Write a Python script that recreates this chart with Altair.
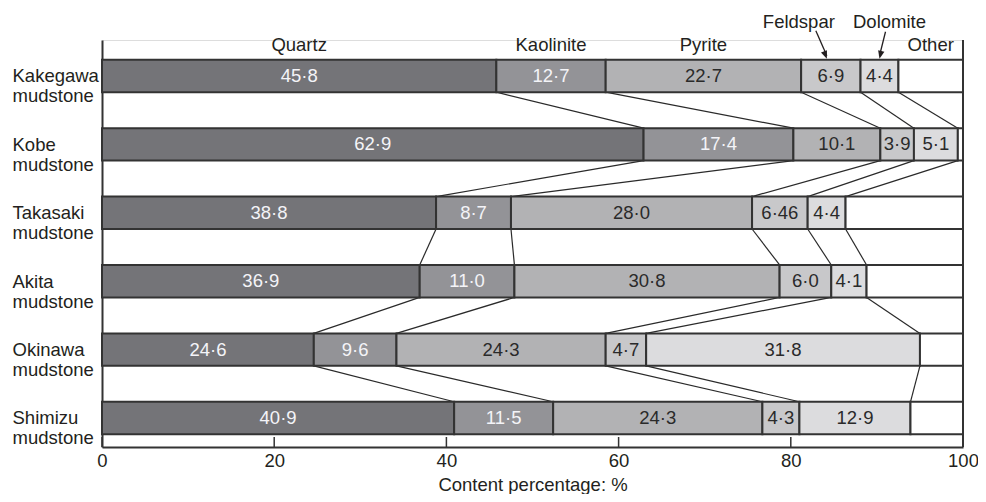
import altair as alt
import pandas as pd

samples = ["Kakegawa mudstone", "Kobe mudstone", "Takasaki mudstone",
           "Akita mudstone", "Okinawa mudstone", "Shimizu mudstone"]
minerals = ["Quartz", "Kaolinite", "Pyrite", "Feldspar", "Dolomite", "Other"]
quartz = [45.8, 62.9, 38.8, 36.9, 24.6, 40.9]
kaolinite = [12.7, 17.4, 8.7, 11.0, 9.6, 11.5]
pyrite = [22.7, 10.1, 28.0, 30.8, 24.3, 24.3]
feldspar = [6.9, 3.9, 6.46, 6.0, 4.7, 4.3]
dolomite = [4.4, 5.1, 4.4, 4.1, 31.8, 12.9]
tick_values = [0, 20, 40, 60, 80, 100]

fill_colors = ["#747478", "#939397", "#b2b2b4", "#c8c8ca", "#dcdcde", "#ffffff"]
text_colors = ["#f4f4f8", "#f4f4f8", "#2a2a2a", "#2a2a2a", "#2a2a2a", "#2a2a2a"]

HALF = 0.237  # half bar height in row units
FONT = "Liberation Sans"
INK = "#231f20"
W, H = 861, 407
FS = 18.5


def fmt(v):
    s = f"{v:.2f}".rstrip("0")
    if s.endswith("."):
        s += "0"
    return s.replace(".", "\u00b7")


series = [quartz, kaolinite, pyrite, feldspar, dolomite]
seg_rows = []
cums = []
for i, s in enumerate(samples):
    start = 0.0
    cum = []
    for k in range(5):
        v = series[k][i]
        end = start + v
        seg_rows.append(dict(sample=s, row=i, mineral=minerals[k], start=start, end=end,
                             label=fmt(v), tcolor=text_colors[k]))
        start = end
        cum.append(end)
    seg_rows.append(dict(sample=s, row=i, mineral="Other", start=start, end=100.0,
                         label="", tcolor=text_colors[5]))
    cums.append(cum)
seg = pd.DataFrame(seg_rows)

conn_rows = []
for i in range(len(samples) - 1):
    for k in range(5):
        conn_rows.append(dict(xa=cums[i][k], xb=cums[i + 1][k], ra=i, rb=i + 1))
conn = pd.DataFrame(conn_rows)

yscale = alt.Scale(domain=[-0.526, 5.424], reverse=True, nice=False, zero=False)
xscale = alt.Scale(domain=[0, 100], nice=False, zero=False)

names_js = "[" + ",".join("'" + n + "'" for n in samples) + "]"

xaxis = alt.Axis(values=tick_values, ticks=False, grid=False, domain=True,
                 domainColor="#333333", domainWidth=2,
                 labelFont=FONT, labelFontSize=FS, labelColor=INK,
                 labelPadding=4, labelFlush=False,
                 title="Content percentage: %", titleFont=FONT,
                 titleFontSize=FS, titleFontWeight="normal", titleColor=INK,
                 titleY=37, titleBaseline="middle")
yaxis = alt.Axis(values=list(range(len(samples))), ticks=False, tickSize=0,
                 grid=False, domain=True, domainColor="#333333", domainWidth=2,
                 labelExpr=f"split({names_js}[datum.value], ' ')",
                 labelAlign="left", labelBaseline="middle", labelPadding=90,
                 labelFont=FONT, labelFontSize=FS, labelLineHeight=20,
                 labelColor=INK, labelFlush=False, labelOverlap=False,
                 labelBound=False, title=None)


def X(field):
    return alt.X(field, scale=xscale, axis=xaxis)


def Y(field):
    return alt.Y(field, scale=yscale, axis=yaxis)


base = alt.Chart(seg).transform_calculate(
    top=f"datum.row - {HALF}", bot=f"datum.row + {HALF}",
    mid="(datum.start + datum.end) / 2")

bars = base.mark_rect(stroke="#333333", strokeWidth=2).encode(
    x=X("start:Q"), x2="end:Q",
    y=Y("top:Q"), y2="bot:Q",
    color=alt.Color("mineral:N", scale=alt.Scale(domain=minerals, range=fill_colors),
                    legend=None),
)

seg_text = base.transform_filter("datum.label != ''").mark_text(
    font=FONT, fontSize=FS, baseline="middle").encode(
    x=X("mid:Q"), y=Y("row:Q"),
    text="label:N",
    color=alt.Color("tcolor:N", scale=None),
)

connectors = alt.Chart(conn).transform_calculate(
    ya=f"datum.ra + {HALF}", yb=f"datum.rb - {HALF}").mark_rule(
    color="#2a2a2a", strokeWidth=1.2).encode(
    x=X("xa:Q"), x2="xb:Q",
    y=Y("ya:Q"), y2="yb:Q",
)

top_row = base.transform_filter("datum.row == 0")

top_labels = top_row.transform_filter(
    "indexof(['Quartz','Kaolinite','Pyrite','Other'], datum.mineral) >= 0"
).transform_calculate(ty="-0.453").mark_text(
    font=FONT, fontSize=FS, color=INK, baseline="middle").encode(
    x=X("mid:Q"), y=Y("ty:Q"), text="mineral:N",
)

feld = top_row.transform_filter("datum.mineral == 'Feldspar'")
dolo = top_row.transform_filter("datum.mineral == 'Dolomite'")

feld_label = feld.mark_text(font=FONT, fontSize=FS, color=INK, baseline="middle",
                            dx=-32, dy=-38).encode(
    x=X("mid:Q"), y=Y("top:Q"), text="mineral:N")
dolo_label = dolo.mark_text(font=FONT, fontSize=FS, color=INK, baseline="middle",
                            dx=10, dy=-38).encode(
    x=X("mid:Q"), y=Y("top:Q"), text="mineral:N")

feld_shaft = feld.mark_rule(color=INK, strokeWidth=1.3, xOffset=-15, yOffset=-29,
                            x2Offset=-4, y2Offset=-4).encode(
    x=X("mid:Q"), x2="mid:Q", y=Y("top:Q"), y2="top:Q")
dolo_shaft = dolo.mark_rule(color=INK, strokeWidth=1.3, xOffset=6, yOffset=-28,
                            x2Offset=0, y2Offset=-4).encode(
    x=X("mid:Q"), x2="mid:Q", y=Y("top:Q"), y2="top:Q")

head_shape = "M0,0L-0.4,-1L0.4,-1Z"
feld_head = feld.mark_point(shape=head_shape, size=256, filled=True, color=INK,
                            opacity=1, angle=339, xOffset=-4, yOffset=-1).encode(
    x=X("mid:Q"), y=Y("top:Q"))
dolo_head = dolo.mark_point(shape=head_shape, size=256, filled=True, color=INK,
                            opacity=1, angle=13, xOffset=0, yOffset=-1).encode(
    x=X("mid:Q"), y=Y("top:Q"))

ticks = alt.Chart(pd.DataFrame({"t": tick_values})).mark_rule(
    color="#333333", strokeWidth=1.5).encode(
    x=X("t:Q"), y=alt.value(H - 10), y2=alt.value(H))

right_frame = alt.Chart(pd.DataFrame({"t": [100]})).mark_rule(
    color="#333333", strokeWidth=2).encode(
    x=X("t:Q"), y=alt.value(0), y2=alt.value(H))

chart = alt.layer(
    connectors, bars, seg_text, ticks, right_frame, top_labels,
    feld_label, dolo_label, feld_shaft, dolo_shaft, feld_head, dolo_head,
).properties(
    width=W, height=H,
    autosize=alt.AutoSizeParams(type="none"),
    padding={"left": 94, "top": 32, "right": 15, "bottom": 47},
).configure_view(stroke=None).configure(background="white")

chart.save("out.html", embed_options={"renderer": "svg", "actions": False})
